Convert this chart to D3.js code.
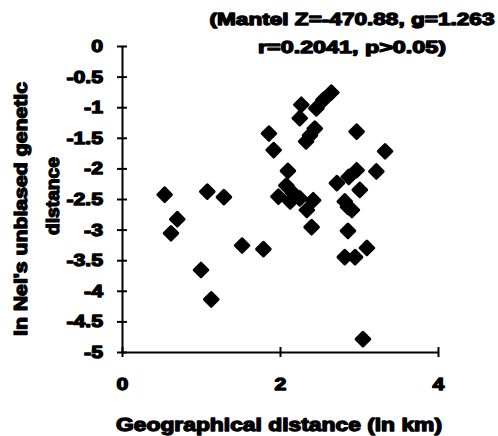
<!DOCTYPE html>
<html>
<head>
<meta charset="utf-8">
<script src="https://cdn.jsdelivr.net/npm/d3@7"></script>
<style>
  body { margin: 0; background: #fff; }
  text { font-family: "Liberation Sans", Arial, sans-serif; font-weight: bold; fill: #000; }
</style>
</head>
<body>
<svg id="grafico"></svg>
<script>
// distancia geografica (km) x ln distancia genetica de Nei
const distGeo = [0.54, 0.70, 0.62, 1.08, 1.29, 1.00, 1.13, 1.52, 1.79, 1.86, 1.92, 2.10,
  2.27, 2.25, 2.46, 2.55, 2.65, 2.44, 2.38, 2.33, 1.98, 2.08, 2.17, 2.13, 2.25, 2.42,
  2.34, 2.40, 2.97, 3.33, 3.22, 2.72, 2.87, 2.97, 3.01, 2.82, 2.86, 2.91, 2.86, 2.82,
  2.95, 3.10, 3.05];
const distGen = [-2.43, -2.83, -3.06, -2.38, -2.47, -3.66, -4.14, -3.26, -3.32, -1.43, -1.70, -2.04,
  -0.96, -1.18, -1.02, -0.88, -0.76, -1.35, -1.46, -1.56, -2.46, -2.28, -2.41, -2.54, -2.49, -2.52,
  -2.68, -2.96, -1.40, -1.72, -2.05, -2.24, -2.14, -2.03, -2.35, -2.54, -2.63, -2.68, -3.02, -3.45,
  -3.45, -3.30, -4.79];
const ticksX = [0, 2, 4];
const ticksY = [0, -0.5, -1, -1.5, -2, -2.5, -3, -3.5, -4, -4.5, -5];
const titulo = ["(Mantel Z=-470.88, g=1.263", "r=0.2041, p>0.05)"];
const rotuloX = "Geographical distance (in km)";
const rotuloY = ["ln Nei's unbiased genetic", "distance"];

const largura = 498, altura = 436;
const dados = distGeo.map((x, i) => ({ x: x, y: distGen[i] }));

let svg = d3.select("#grafico")
    .attr("width", largura)
    .attr("height", altura);

let fnX = d3.scaleLinear().domain([0, 4]).range([122, 438]);
let fnY = d3.scaleLinear().domain([-5, 0]).range([352, 46]);

let fmt = d => String(d);

// texto "pesado" e mais largo, como no original escaneado
function pesado(sel, tam, alvo) {
    sel.style("font-size", tam + "px")
        .attr("stroke", "#000")
        .attr("stroke-width", 1.3)
        .attr("stroke-linejoin", "round");
    sel.each(function (d, i) {
        let comp = typeof alvo === "function" ? alvo(this, i) : alvo;
        d3.select(this).attr("textLength", comp).attr("lengthAdjust", "spacingAndGlyphs");
    });
}
let esticar = f => (el) => el.getComputedTextLength() * f;

// eixo y
let eixoY = svg.append("g")
    .attr("transform", `translate(${fnX(0)},0)`)
    .call(d3.axisLeft(fnY).tickValues(ticksY).tickFormat(fmt).tickSizeOuter(0).tickPadding(13));
eixoY.selectAll(".tick line").attr("x1", -5).attr("x2", 5).attr("stroke-width", 2);
eixoY.select(".domain").attr("stroke-width", 2);
eixoY.selectAll(".tick text").call(pesado, 17, esticar(1.25));

// eixo x
let eixoX = svg.append("g")
    .attr("transform", `translate(0,${fnY(-5)})`)
    .call(d3.axisBottom(fnX).tickValues(ticksX).tickFormat(fmt).tickSizeOuter(0).tickPadding(20));
eixoX.selectAll(".tick line").attr("y1", -5).attr("y2", 5).attr("stroke-width", 2);
eixoX.select(".domain").attr("stroke-width", 2);
eixoX.selectAll(".tick text").call(pesado, 17, esticar(1.25));

// pontos (losangos)
svg.append("g").selectAll(".ponto")
    .data(dados)
    .enter()
    .append("rect")
    .classed("ponto", true)
    .attr("x", -4.8).attr("y", -4.8)
    .attr("width", 9.6).attr("height", 9.6)
    .attr("fill", "#000")
    .attr("stroke", "#000")
    .attr("stroke-width", 3)
    .attr("stroke-linejoin", "round")
    .attr("transform", d => `translate(${fnX(d.x)},${fnY(d.y)}) rotate(45)`);

// titulo
svg.selectAll(".titulo")
    .data(titulo)
    .enter()
    .append("text")
    .classed("titulo", true)
    .attr("x", 352)
    .attr("y", (d, i) => 25 + i * 28)
    .attr("text-anchor", "middle")
    .text(d => d)
    .call(pesado, 17, (el, i) => [285, 188][i]);

// rotulo x
svg.append("text")
    .attr("x", 279).attr("y", 431)
    .attr("text-anchor", "middle")
    .text(rotuloX)
    .call(pesado, 18, 326);

// rotulo y
svg.selectAll(".rotuloY")
    .data(rotuloY)
    .enter()
    .append("text")
    .classed("rotuloY", true)
    .attr("transform", (d, i) => i === 0 ? "translate(27,209) rotate(-90)" : "translate(59,196) rotate(-90)")
    .attr("text-anchor", "middle")
    .text(d => d)
    .call(pesado, 18, (el, i) => [254, 78][i]);
</script>
</body>
</html>
